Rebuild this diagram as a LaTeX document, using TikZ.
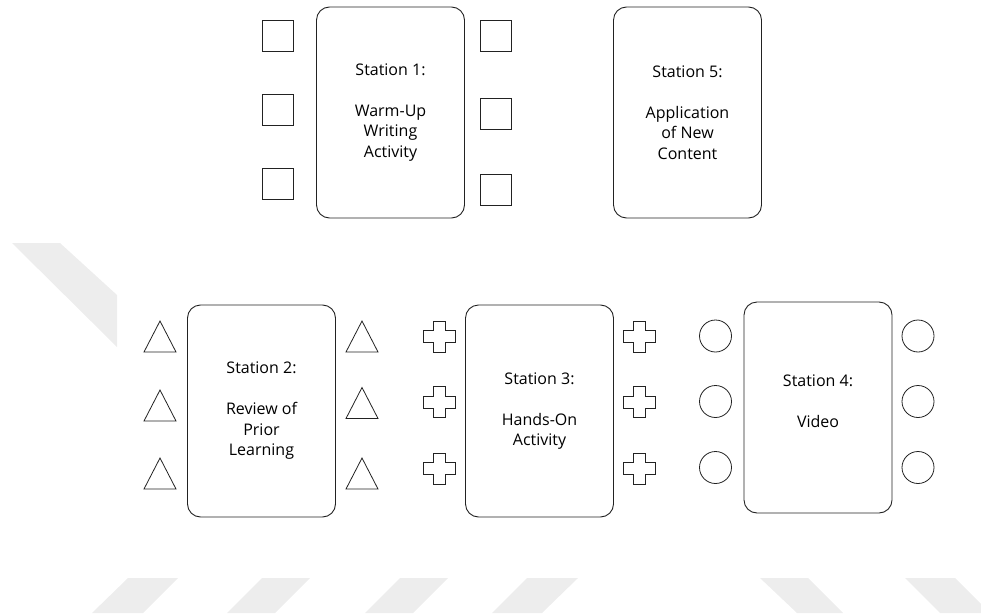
\documentclass[tikz,border=0pt]{standalone}
\usepackage{fontspec}
\setmainfont{Open Sans}
\definecolor{ink}{HTML}{222222}
\definecolor{mark}{HTML}{EDEDED}
\newfontfamily\labelfont{Open Sans}
\tikzset{
  stationbox/.style={draw=ink, line width=0.9pt, rounded corners=13pt,
    minimum width=148pt, minimum height=211pt, inner sep=0pt,
    align=center, text=black,
    font=\labelfont\fontsize{16}{20.5}\selectfont},
  seatsquare/.style={draw=ink, line width=0.8pt, minimum size=31pt, inner sep=0pt},
  seatcircle/.style={draw=ink, line width=0.8pt, circle, minimum size=32pt, inner sep=0pt},
  seattri/.pic={\draw[ink, line width=0.8pt] (-16,15.5) -- (0,-15.5) -- (16,15.5) -- cycle;},
  seatcross/.pic={\draw[ink, line width=0.8pt]
    (-6,-15.5) -- (6,-15.5) -- (6,-6) -- (16,-6) -- (16,6) -- (6,6)
    -- (6,15.5) -- (-6,15.5) -- (-6,6) -- (-16,6) -- (-16,-6) -- (-6,-6) -- cycle;},
  wmark/.style={fill=mark, draw=none}
}
\begin{document}
\begin{tikzpicture}[x=1pt, y=-1pt]
  \useasboundingbox (0,0) rectangle (981,615);

  % faint background stripes
  \fill[wmark] (12,243) -- (60,243) -- (117,295) -- (117,347) -- cycle;
  \fill[wmark] (128,578) -- (178,578) -- (143,613) -- (92,613) -- cycle;
  \fill[wmark] (262,578) -- (310,578) -- (275,613) -- (227,613) -- cycle;
  \fill[wmark] (400,578) -- (448,578) -- (413,613) -- (365,613) -- cycle;
  \fill[wmark] (527,578) -- (578,578) -- (542,613) -- (492,613) -- cycle;
  \fill[wmark] (760,578) -- (808,578) -- (843,613) -- (797,613) -- cycle;
  \fill[wmark] (905,578) -- (955,578) -- (981,604) -- (981,613) -- (940,613) -- cycle;

  % stations
  \node[stationbox] (s1) at (390.5,112.5) {Station 1:\\[20.5pt]Warm-Up\\Writing\\Activity};
  \node[stationbox] (s5) at (687.5,112.5) {Station 5:\\[20.5pt]Application\\of New\\Content};
  \node[stationbox, minimum height=212pt] (s2) at (261.5,411) {Station 2:\\[20.5pt]Review of\\Prior\\Learning};
  \node[stationbox, minimum height=212pt] (s3) at (539.5,411) {Station 3:\\[20.5pt]Hands-On\\Activity};
  \node[stationbox] (s4) at (818,407.5) {};
  \node[align=center, text=black, font=\labelfont\fontsize{16}{20.5}\selectfont]
    (s4text) at ([yshift=6pt]s4.center) {Station 4:\\[20.5pt]Video};

  % seats around station 1
  \node[seatsquare] (s1l1) at (277.5,36) {};
  \node[seatsquare] (s1l2) at (277.5,110) {};
  \node[seatsquare] (s1l3) at (277.5,184) {};
  \node[seatsquare] (s1r1) at (495.5,36) {};
  \node[seatsquare] (s1r2) at (495.5,113.5) {};
  \node[seatsquare] (s1r3) at (495.5,190) {};

  % seats around station 2
  \pic (s2l1) at (160,336.5) {seattri};
  \pic (s2l2) at (160,405.5) {seattri};
  \pic (s2l3) at (160,473.5) {seattri};
  \pic (s2r1) at (362,336.5) {seattri};
  \pic (s2r2) at (362,403) {seattri};
  \pic (s2r3) at (362,473.5) {seattri};

  % seats around station 3
  \pic (s3l1) at (439,336.5) {seatcross};
  \pic (s3l2) at (439,402) {seatcross};
  \pic (s3l3) at (439,468.5) {seatcross};
  \pic (s3r1) at (639,336.5) {seatcross};
  \pic (s3r2) at (639,402) {seatcross};
  \pic (s3r3) at (639,468.5) {seatcross};

  % seats around station 4
  \node[seatcircle] (s4l1) at (715.5,336) {};
  \node[seatcircle] (s4l2) at (715.5,401.5) {};
  \node[seatcircle] (s4l3) at (715.5,467.5) {};
  \node[seatcircle] (s4r1) at (918,336) {};
  \node[seatcircle] (s4r2) at (918,401.5) {};
  \node[seatcircle] (s4r3) at (918,467.5) {};
\end{tikzpicture}
\end{document}
